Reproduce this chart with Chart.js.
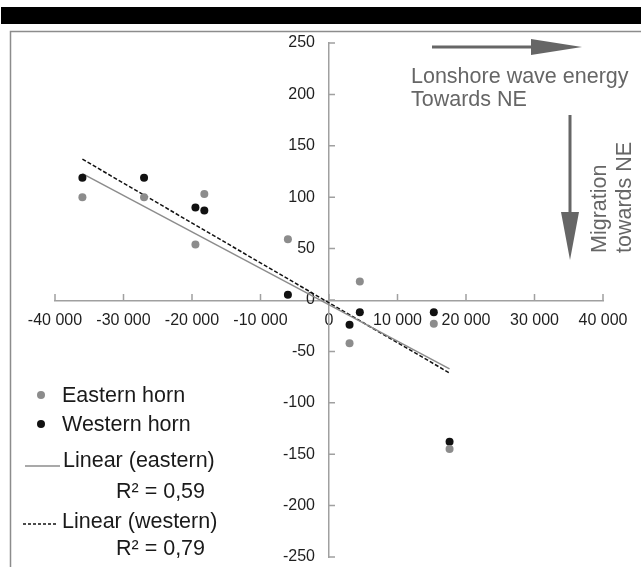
<!DOCTYPE html>
<html>
<head>
<meta charset="utf-8">
<script src="https://cdn.jsdelivr.net/npm/chart.js@4/dist/chart.umd.min.js"></script>
<style>
  html, body { margin: 0; padding: 0; background: #fff; }
  #wrap { width: 641px; height: 567px; position: relative; }
</style>
</head>
<body>
<div id="wrap"><canvas id="chart" width="641" height="567"></canvas></div>
<script>
// values
const eastX = [-36000, -27000, -18200, -19500, -6000, 4500, 3000, 15300, 17600];
const eastY = [100, 100, 103, 54, 59, 18, -42, -23, -145];
const westX = [-36000, -27000, -19500, -18200, -6000, 4500, 3000, 15300, 17600];
const westY = [119, 119, 90, 87, 5, -12, -24, -12, -138];
const trendX = [-36000, 17600];
const eastTrendY = [123, -67];
const westTrendY = [137, -71];
const xTickLabels = ['-40 000', '-30 000', '-20 000', '-10 000', '0', '10 000', '20 000', '30 000', '40 000'];
const yTickLabels = ['-250', '-200', '-150', '-100', '-50', '0', '50', '100', '150', '200', '250'];

const FONT = '"Liberation Sans", Arial, sans-serif';
const pts = (xs, ys) => xs.map((x, i) => ({ x: x, y: ys[i] }));

const decor = {
    id: 'decor',
    beforeDraw(chart) {
        const ctx = chart.ctx;
        ctx.save();
        ctx.fillStyle = '#000';
        ctx.fillRect(1, 7, 640, 17);
        ctx.strokeStyle = '#8c8c8c';
        ctx.lineWidth = 1.5;
        ctx.strokeRect(10.5, 31.5, 700, 600);
        ctx.restore();
    },
    afterDraw(chart) {
        const ctx = chart.ctx;
        const xs = chart.scales.x, ys = chart.scales.y;
        const x0 = xs.getPixelForValue(0), y0 = ys.getPixelForValue(0);
        ctx.save();
        // inside tick marks
        ctx.strokeStyle = '#a0a0a0';
        ctx.lineWidth = 1.5;
        ctx.beginPath();
        xs.ticks.forEach(t => {
            const p = xs.getPixelForValue(t.value);
            ctx.moveTo(p, y0);
            ctx.lineTo(p, y0 - 6);
        });
        ys.ticks.forEach(t => {
            const p = ys.getPixelForValue(t.value);
            ctx.moveTo(x0, p);
            ctx.lineTo(x0 + 6, p);
        });
        ctx.stroke();

        // arrows
        ctx.fillStyle = '#666';
        ctx.fillRect(432, 45.5, 100, 3);
        ctx.beginPath();
        ctx.moveTo(531, 39);
        ctx.lineTo(582, 47);
        ctx.lineTo(531, 55);
        ctx.closePath();
        ctx.fill();
        ctx.fillRect(568.5, 115, 3, 98);
        ctx.beginPath();
        ctx.moveTo(561, 212);
        ctx.lineTo(579, 212);
        ctx.lineTo(570, 260);
        ctx.closePath();
        ctx.fill();

        ctx.font = '21.5px ' + FONT;
        ctx.textAlign = 'left';
        ctx.textBaseline = 'alphabetic';
        ctx.fillText('Lonshore wave energy', 411, 83);
        ctx.fillText('Towards NE', 411, 106);
        ctx.save();
        ctx.translate(606, 253);
        ctx.rotate(-Math.PI / 2);
        ctx.fillText('Migration', 0, 0);
        ctx.restore();
        ctx.save();
        ctx.translate(631, 253);
        ctx.rotate(-Math.PI / 2);
        ctx.fillText('towards NE', 0, 0);
        ctx.restore();

        // legend
        ctx.fillStyle = '#8c8c8c';
        ctx.beginPath();
        ctx.arc(41, 395, 4, 0, Math.PI * 2);
        ctx.fill();
        ctx.fillStyle = '#111';
        ctx.beginPath();
        ctx.arc(41, 424, 4, 0, Math.PI * 2);
        ctx.fill();
        ctx.fillStyle = '#1a1a1a';
        ctx.fillText('Eastern horn', 62, 402);
        ctx.fillText('Western horn', 62, 431);
        ctx.strokeStyle = '#8c8c8c';
        ctx.lineWidth = 1.5;
        ctx.beginPath();
        ctx.moveTo(25, 466);
        ctx.lineTo(60, 466);
        ctx.stroke();
        ctx.fillText('Linear (eastern)', 63, 467);
        ctx.fillText('R\u00b2 = 0,59', 116, 498);
        ctx.strokeStyle = '#111';
        ctx.setLineDash([3, 2]);
        ctx.beginPath();
        ctx.moveTo(23, 524);
        ctx.lineTo(57, 524);
        ctx.stroke();
        ctx.setLineDash([]);
        ctx.fillText('Linear (western)', 62, 528);
        ctx.fillText('R\u00b2 = 0,79', 116, 555);
        ctx.restore();
    }
};

new Chart(document.getElementById('chart'), {
    type: 'scatter',
    data: {
        datasets: [
            {
                label: 'Eastern horn',
                data: pts(eastX, eastY),
                backgroundColor: '#8c8c8c',
                borderColor: '#8c8c8c',
                pointRadius: 4,
                pointBorderWidth: 0
            },
            {
                label: 'Western horn',
                data: pts(westX, westY),
                backgroundColor: '#111',
                borderColor: '#111',
                pointRadius: 4,
                pointBorderWidth: 0
            },
            {
                label: 'Linear (eastern)',
                data: pts(trendX, eastTrendY),
                showLine: true,
                borderColor: '#8c8c8c',
                borderWidth: 1.5,
                pointRadius: 0
            },
            {
                label: 'Linear (western)',
                data: pts(trendX, westTrendY),
                showLine: true,
                borderColor: '#111',
                borderWidth: 1.5,
                borderDash: [4, 2],
                pointRadius: 0
            }
        ]
    },
    options: {
        responsive: false,
        animation: false,
        layout: { padding: { left: 55, top: 43, right: 38, bottom: 10 } },
        plugins: {
            legend: { display: false },
            tooltip: { enabled: false }
        },
        scales: {
            x: {
                type: 'linear',
                position: 'center',
                min: -40000,
                max: 40000,
                // centred axes: take no room in the layout
                afterFit: s => { s.height = 0; s.paddingLeft = 0; s.paddingRight = 0; },
                grid: { display: false, drawTicks: false },
                border: { display: true, color: '#a0a0a0', width: 1.5 },
                ticks: {
                    stepSize: 10000,
                    padding: 11,
                    color: '#1f1f1f',
                    font: { family: FONT, size: 16 },
                    callback: (v, i) => xTickLabels[i]
                }
            },
            y: {
                type: 'linear',
                position: 'center',
                min: -250,
                max: 250,
                afterFit: s => { s.width = 0; s.paddingTop = 0; s.paddingBottom = 0; },
                grid: { display: false, drawTicks: false },
                border: { display: true, color: '#a0a0a0', width: 1.5 },
                ticks: {
                    stepSize: 50,
                    padding: 14,
                    color: '#1f1f1f',
                    font: { family: FONT, size: 16 },
                    callback: (v, i) => yTickLabels[i]
                }
            }
        }
    },
    plugins: [decor]
});
</script>
</body>
</html>
